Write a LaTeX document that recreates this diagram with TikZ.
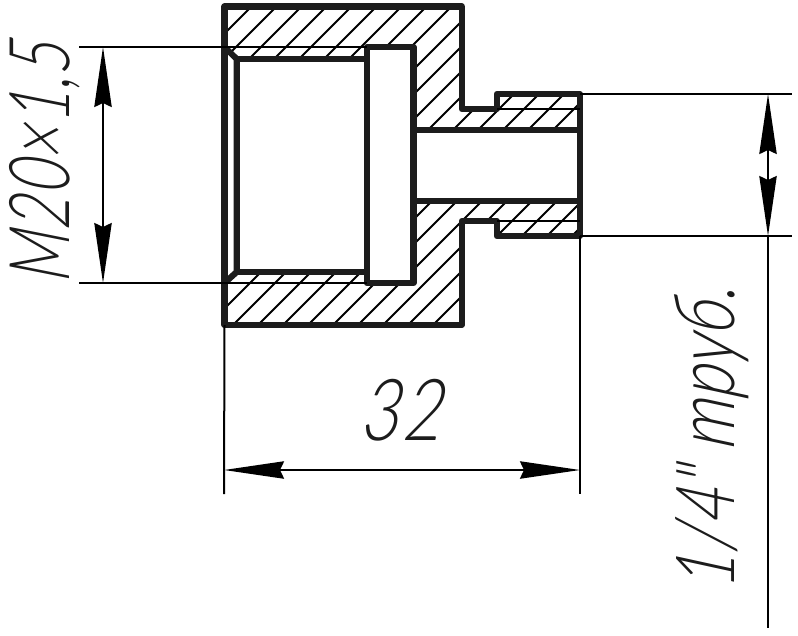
\documentclass[tikz,border=0pt]{standalone}
\usepackage{fontspec}
\usetikzlibrary{arrows.meta}
\newfontfamily\gost[FakeSlant=0.15]{Lato Light Italic}
\definecolor{contour}{HTML}{1C1C1C}
\tikzset{
  contourline/.style={draw=contour,line width=4.6pt,line join=round},
  thinline/.style={draw=black,line width=1.5pt},
  hatchline/.style={draw=black,line width=1.4pt},
  dimline/.style={thinline,{Stealth[length=45pt,width=13pt,inset=3pt]}-{Stealth[length=45pt,width=13pt,inset=3pt]}},
  dimtext/.style={inner sep=0pt,text=contour,font=\gost\fontsize{60}{60}\selectfont}
}
\begin{document}
\begin{tikzpicture}[x=0.75pt,y=-0.75pt]
  \useasboundingbox (0,0) rectangle (798,635);
  \coordinate (A) at (224.5,6.5);
  \coordinate (B) at (461.7,6.5);
  \coordinate (C) at (461.7,109);
  \coordinate (D) at (496.7,109);
  \coordinate (E) at (496.7,94);
  \coordinate (F) at (580,94);
  \coordinate (G) at (580,236);
  \coordinate (H) at (496.7,236);
  \coordinate (I) at (496.7,221);
  \coordinate (J) at (461.7,221);
  \coordinate (K) at (461.7,325);
  \coordinate (L) at (224.5,325);
  \coordinate (M) at (224.5,47);
  \coordinate (N) at (236.7,59);
  \coordinate (O) at (366.7,59);
  \coordinate (P) at (366.7,47);
  \coordinate (Q) at (413.5,47);
  \coordinate (R) at (413.5,130);
  \coordinate (S) at (580,130);
  \coordinate (T) at (580,201);
  \coordinate (U) at (413.5,201);
  \coordinate (V) at (413.5,283);
  \coordinate (W) at (366.7,283);
  \coordinate (X) at (366.7,272);
  \coordinate (Y) at (236.7,272);
  \coordinate (Z) at (224.5,283);
  \begin{scope}
    \clip (A) -- (B) -- (C) -- (D) -- (E) -- (F) -- (S) -- (R) -- (Q) -- (P) -- (O) -- (N) -- (M) -- cycle
          (L) -- (K) -- (J) -- (I) -- (H) -- (G) -- (T) -- (U) -- (V) -- (W) -- (X) -- (Y) -- (Z) -- cycle;
    \foreach \c in {0,...,23}
      \draw[hatchline] ({258+25*\c-340},340) -- ({258+25*\c},0);
  \end{scope}
  \draw[contourline] (A) -- (B) -- (C) -- (D) -- (E) -- (F) -- (G) -- (H) -- (I) -- (J) -- (K) -- (L) -- cycle;
  \draw[contourline] (M) -- (N) -- (Y) -- (Z);
  \draw[contourline] (N) -- (O);
  \draw[contourline] (Y) -- (X);
  \draw[contourline] (P) -- (Q) -- (V) -- (W) -- cycle;
  \draw[contourline] (R) -- (S);
  \draw[contourline] (U) -- (T);
  \coordinate (extTL) at (79,47);
  \coordinate (extBL) at (79,283);
  \coordinate (dimLT) at (103,47);
  \coordinate (dimLB) at (103,283);
  \coordinate (extTR) at (792,94);
  \coordinate (extBR) at (792,236);
  \coordinate (dimRT) at (768,94);
  \coordinate (dimRB) at (768,236);
  \coordinate (dimRE) at (768,628);
  \coordinate (extL) at (224,494);
  \coordinate (extR) at (580,494);
  \coordinate (dimBL) at (224,470);
  \coordinate (dimBR) at (580,470);
  \coordinate (thrTL) at (497,108.7);
  \coordinate (thrTR) at (580,108.7);
  \coordinate (thrBL) at (497,221);
  \coordinate (thrBR) at (580,221);
  \draw[thinline] (extTL) -- (P);
  \draw[thinline] (extBL) -- (W);
  \draw[thinline] (F) -- (extTR);
  \draw[thinline] (G) -- (extBR);
  \draw[thinline] (L) -- (extL);
  \draw[thinline] (G) -- (extR);
  \draw[thinline] (thrTL) -- (thrTR);
  \draw[thinline] (thrBL) -- (thrBR);
  \draw[dimline] (dimLT) -- (dimLB);
  \draw[dimline] (dimRT) -- (dimRB);
  \draw[thinline] (dimRB) -- (dimRE);
  \draw[dimline] (dimBL) -- (dimBR);
  \node[dimtext,rotate=90,xscale=0.765,yscale=1.05] (labelM) at (45,161) {M20×1,5};
  \node[dimtext,xscale=0.9,yscale=1.07] (labelW) at (402,410) {32};
  \node[dimtext,rotate=90,xscale=0.817,yscale=1.02] (labelP) at (712,437.5) {1/4" труб.};
\end{tikzpicture}
\end{document}
